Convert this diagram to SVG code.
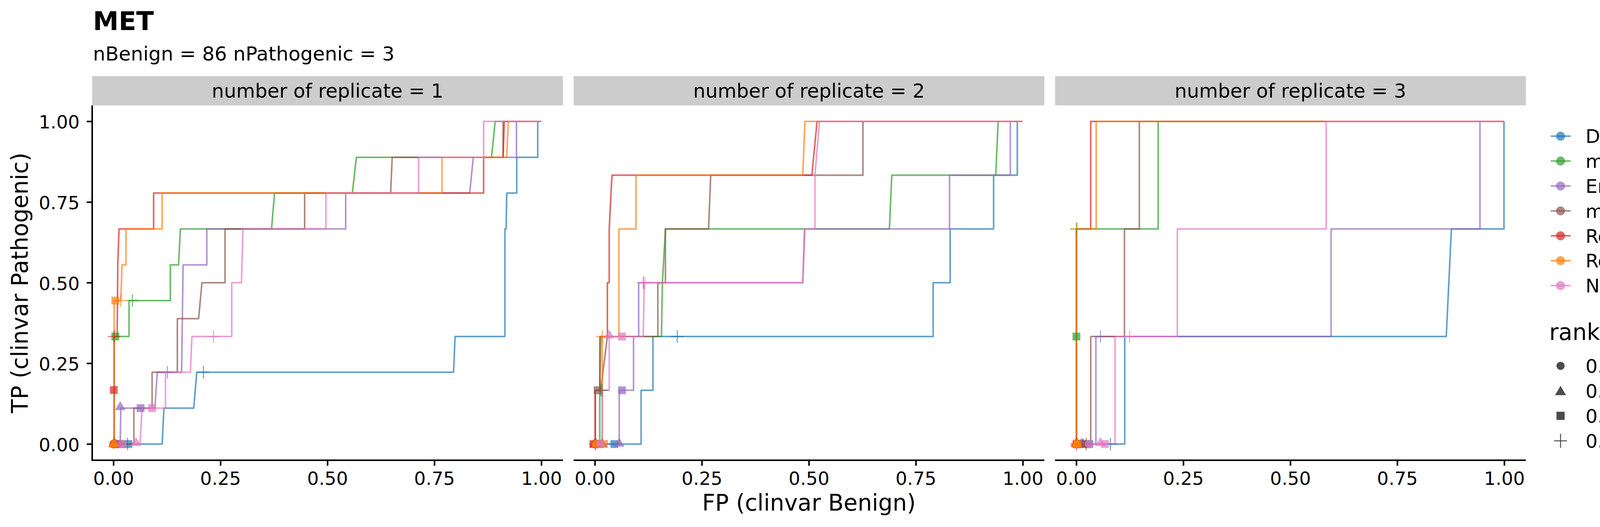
<svg xmlns="http://www.w3.org/2000/svg" xmlns:xlink="http://www.w3.org/1999/xlink" width="4500" height="1350" viewBox="0 0 4500 1350">
<style>
text{font-family:"DejaVu Sans","Liberation Sans",sans-serif;fill:#000}
.t{font-size:66px;font-weight:bold}
.st{font-size:50px}
.sx{font-size:49.5px;text-anchor:middle}
.tk{font-size:47px}
.tx{text-anchor:middle}
.ty{text-anchor:end}
.at{font-size:58px;text-anchor:middle}
.lg{font-size:48.5px}
.lt{font-size:58px}
.strip{fill:#cccccc}
.ax{stroke:#000;stroke-width:4;fill:none}
.c{fill:none;stroke-width:4;stroke-opacity:.7;vector-effect:non-scaling-stroke;stroke-linejoin:round}
.m{fill-opacity:.7;stroke-opacity:.7}
.lb{stroke:#1f77b4}.lgr{stroke:#2ca02c}.lp{stroke:#9467bd}.lbr{stroke:#8c564b}.lr{stroke:#d62728}.lo{stroke:#ff7f0e}.lk{stroke:#e377c2}
.kb{fill:#1f77b4;stroke:#1f77b4}.kg{fill:#2ca02c;stroke:#2ca02c}.kp{fill:#9467bd;stroke:#9467bd}.kbr{fill:#8c564b;stroke:#8c564b}.kr{fill:#d62728;stroke:#d62728}.ko{fill:#ff7f0e;stroke:#ff7f0e}.kk{fill:#e377c2;stroke:#e377c2}.kd{fill:#000;stroke:#000}
.kl{stroke-width:4;stroke-opacity:.7;fill:none}
</style>
<defs>
<ellipse id="mc" rx="14.14" ry="18.77" stroke="none"/>
<path id="mt" d="M0,-25.6 L17.35,13.65 L-17.35,13.65 Z" stroke="none"/>
<rect id="ms" x="-12.86" y="-17.06" width="25.71" height="34.12" stroke="none"/>
<path id="mp" d="M-20.57,0 H20.57 M0,-27.3 V27.3" fill="none" stroke-width="2.5" vector-effect="non-scaling-stroke"/>
<circle id="gc" r="11.5" stroke="none"/>
<circle id="gc2" r="10.5" stroke="none"/>
<path id="gt" d="M0,-13 L14,11 L-14,11 Z" stroke="none"/>
<rect id="gs" x="-10.5" y="-10.5" width="21" height="21" stroke="none"/>
<path id="gp" d="M-16.5,0 H16.5 M0,-18 V18" fill="none" stroke-width="2.5"/>
</defs>
<rect x="0" y="0" width="4500" height="1350" fill="#fff"/>

<g id="title">
<text class="t" x="238" y="77">MET</text>
<text class="st" x="238" y="155">nBenign = 86 nPathogenic = 3</text>
</g>

<g id="strips">
<rect class="strip" x="236" y="195" width="1205" height="75"/>
<rect class="strip" x="1468.5" y="195" width="1205" height="75"/>
<rect class="strip" x="2701" y="195" width="1205" height="75"/>
<text class="sx" x="838.5" y="250">number of replicate = 1</text>
<text class="sx" x="2071" y="250">number of replicate = 2</text>
<text class="sx" x="3303.5" y="250">number of replicate = 3</text>
</g>

<g id="axes">
<path class="ax" d="M236,270 V1181 M234,1179 H1441 M1468.5,1179 H2673.5 M2701,1179 H3906"/>
<path class="ax" d="M222,311.3 H236 M222,517.9 H236 M222,724.5 H236 M222,931.1 H236 M222,1137.7 H236"/>
<path class="ax" d="M290.8,1179 V1193 M564.7,1179 V1193 M838.6,1179 V1193 M1112.4,1179 V1193 M1386.3,1179 V1193 M1523.3,1179 V1193 M1797.2,1179 V1193 M2071.1,1179 V1193 M2344.9,1179 V1193 M2618.8,1179 V1193 M2755.8,1179 V1193 M3029.7,1179 V1193 M3303.6,1179 V1193 M3577.4,1179 V1193 M3851.3,1179 V1193"/>
<g class="tk ty">
<text x="204" y="329.3">1.00</text>
<text x="204" y="535.9">0.75</text>
<text x="204" y="742.5">0.50</text>
<text x="204" y="949.1">0.25</text>
<text x="204" y="1155.7">0.00</text>
</g>
<g class="tk tx">
<text x="290.8" y="1241.7">0.00</text><text x="564.7" y="1241.7">0.25</text><text x="838.6" y="1241.7">0.50</text><text x="1112.4" y="1241.7">0.75</text><text x="1386.3" y="1241.7">1.00</text>
<text x="1523.3" y="1241.7">0.00</text><text x="1797.2" y="1241.7">0.25</text><text x="2071.1" y="1241.7">0.50</text><text x="2344.9" y="1241.7">0.75</text><text x="2618.8" y="1241.7">1.00</text>
<text x="2755.8" y="1241.7">0.00</text><text x="3029.7" y="1241.7">0.25</text><text x="3303.6" y="1241.7">0.50</text><text x="3577.4" y="1241.7">0.75</text><text x="3851.3" y="1241.7">1.00</text>
</g>
<text class="at" x="2071" y="1308">FP (clinvar Benign)</text>
<text class="at" transform="translate(71,724.5) rotate(-90)">TP (clinvar Pathogenic)</text>
</g>

<g id="panel1" transform="translate(231.5,270) scale(0.77791,0.58617)">
<path class="c lb" d="M76,1480 L236,1480 L242,1323 L340,1323 L350,1166 L1195,1166 L1200,1010 L1364,1010 L1364,540 L1368,540 L1370,383 L1403,383 L1403,227 L1472,227 L1472,70 L1483,70"/>
<path class="c lgr" d="M76,1480 L78,1480 L78,1010 L127,1010 L127,853 L263,853 L263,697 L290,697 L296,540 L596,540 L606,383 L862,383 L875,227 L1320,227 L1332,70 L1483,70"/>
<path class="c lp" d="M76,1480 L98,1480 L100,1323 L212,1323 L220,1166 L300,1166 L305,697 L383,697 L383,540 L840,540 L840,383 L1248,383 L1260,227 L1402,227 L1402,70 L1483,70"/>
<path class="c lbr" d="M76,1480 L143,1480 L143,1323 L203,1323 L203,1166 L286,1166 L286,932 L356,932 L367,775 L443,775 L443,540 L705,540 L705,383 L988,383 L993,227 L1358,227 L1358,70 L1483,70"/>
<path class="c lr" d="M76,1480 L78,1480 L78,1010 L88,1010 L90,697 L94,540 L208,540 L208,383 L1294,383 L1294,227 L1358,227 L1362,70 L1483,70"/>
<path class="c lo" d="M76,1480 L78,1480 L78,853 L100,853 L104,697 L117,697 L117,540 L236,540 L236,383 L1157,383 L1157,227 L1370,227 L1375,70 L1483,70"/>
<path class="c lk" d="M76,1480 L163,1480 L170,1323 L247,1323 L247,1166 L329,1166 L334,1010 L465,1010 L465,775 L497,775 L502,540 L775,540 L775,383 L1080,383 L1080,227 L1294,227 L1294,70 L1483,70"/>
<use href="#mc" class="m kb" x="78" y="1480"/><use href="#mt" class="m kb" x="80" y="1480"/><use href="#ms" class="m kb" x="125" y="1480"/><use href="#mp" class="m kb" x="372" y="1166"/>
<use href="#mc" class="m kg" x="76" y="1480"/><use href="#mt" class="m kg" x="78" y="1478"/><use href="#ms" class="m kg" x="82" y="1010"/><use href="#mp" class="m kg" x="138" y="853"/>
<use href="#mc" class="m kp" x="90" y="1480"/><use href="#mt" class="m kp" x="98" y="1318"/><use href="#ms" class="m kp" x="165" y="1323"/><use href="#mp" class="m kp" x="253" y="1166"/>
<use href="#mc" class="m kbr" x="78" y="1480"/><use href="#mt" class="m kbr" x="80" y="1478"/><use href="#ms" class="m kbr" x="100" y="1480"/><use href="#mp" class="m kbr" x="122" y="1480"/>
<use href="#mc" class="m kr" x="76" y="1480"/><use href="#mt" class="m kr" x="76" y="1480"/><use href="#ms" class="m kr" x="77" y="1244"/><use href="#mp" class="m kr" x="78" y="1010"/>
<use href="#mc" class="m ko" x="76" y="1480"/><use href="#mt" class="m ko" x="78" y="1480"/><use href="#ms" class="m ko" x="82" y="853"/><use href="#mp" class="m ko" x="100" y="853"/>
<use href="#mc" class="m kk" x="104" y="1480"/><use href="#mt" class="m kk" x="150" y="1475"/><use href="#ms" class="m kk" x="203" y="1323"/><use href="#mp" class="m kk" x="405" y="1010"/>
</g>

<g id="panel2" transform="translate(1460,270) scale(0.77791,0.58617)">
<path class="c lb" d="M82,1480 L233,1480 L233,1245 L272,1245 L272,1010 L1194,1010 L1194,775 L1250,775 L1250,540 L1393,540 L1393,305 L1471,305 L1471,70 L1488,70"/>
<path class="c lgr" d="M82,1480 L97,1480 L97,1245 L100,1010 L300,1010 L303,775 L313,540 L1050,540 L1058,305 L1400,305 L1408,70 L1488,70"/>
<path class="c lp" d="M82,1480 L161,1480 L161,1245 L208,1245 L208,1010 L225,1010 L225,775 L765,775 L772,540 L1248,540 L1248,305 L1448,305 L1448,70 L1488,70"/>
<path class="c lbr" d="M82,1480 L82,1245 L100,1245 L122,1010 L288,1010 L288,775 L313,775 L313,540 L455,540 L462,305 L963,305 L963,70 L1488,70"/>
<path class="c lr" d="M82,1480 L82,1245 L97,1245 L97,1010 L122,1010 L122,775 L128,775 L128,540 L137,305 L795,305 L812,70 L1488,70"/>
<path class="c lo" d="M82,1480 L105,1480 L105,1010 L160,1010 L160,540 L216,540 L216,305 L765,305 L772,70 L1488,70"/>
<path class="c lk" d="M82,1480 L105,1480 L105,1245 L128,1245 L128,1010 L240,1010 L243,775 L765,775 L770,540 L805,540 L805,305 L820,70 L1488,70"/>
<use href="#mc" class="m kb" x="84" y="1480"/><use href="#mt" class="m kb" x="105" y="1480"/><use href="#ms" class="m kb" x="145" y="1480"/><use href="#mp" class="m kb" x="352" y="1010"/>
<use href="#mc" class="m kg" x="82" y="1480"/><use href="#mt" class="m kg" x="82" y="1480"/><use href="#ms" class="m kg" x="94" y="1480"/><use href="#mp" class="m kg" x="100" y="1245"/>
<use href="#mc" class="m kp" x="90" y="1480"/><use href="#mt" class="m kp" x="161" y="1478"/><use href="#ms" class="m kp" x="170" y="1245"/><use href="#mp" class="m kp" x="240" y="775"/>
<use href="#mc" class="m kbr" x="82" y="1480"/><use href="#mt" class="m kbr" x="80" y="1480"/><use href="#ms" class="m kbr" x="90" y="1245"/><use href="#mp" class="m kbr" x="105" y="1245"/>
<use href="#mc" class="m kr" x="82" y="1480"/><use href="#mt" class="m kr" x="82" y="1480"/><use href="#ms" class="m kr" x="76" y="1480"/><use href="#mp" class="m kr" x="82" y="1480"/>
<use href="#mc" class="m ko" x="84" y="1480"/><use href="#mt" class="m ko" x="86" y="1480"/><use href="#ms" class="m ko" x="111" y="1480"/><use href="#mp" class="m ko" x="105" y="1010"/>
<use href="#mc" class="m kk" x="100" y="1480"/><use href="#mt" class="m kk" x="128" y="1005"/><use href="#ms" class="m kk" x="170" y="1010"/><use href="#mp" class="m kk" x="245" y="775"/>
</g>

<g id="panel3" transform="translate(2695,270) scale(0.77791,0.58617)">
<path class="c lb" d="M78,1480 L237,1480 L237,1010 L1295,1010 L1312,540 L1485,540 L1485,70"/>
<path class="c lgr" d="M78,1480 L78,540 L347,540 L347,70 L1485,70"/>
<path class="c lp" d="M78,1480 L142,1480 L142,1010 L916,1010 L916,540 L1406,540 L1406,70 L1485,70"/>
<path class="c lbr" d="M78,1480 L125,1480 L125,1010 L236,1010 L236,540 L285,540 L285,70 L1485,70"/>
<path class="c lr" d="M78,1480 L78,540 L125,540 L125,70 L1485,70"/>
<path class="c lo" d="M78,1480 L78,540 L143,540 L143,70 L1485,70"/>
<path class="c lk" d="M78,1480 L205,1480 L205,1010 L410,1010 L410,540 L900,540 L900,70 L1485,70"/>
<use href="#mc" class="m kb" x="90" y="1480"/><use href="#mt" class="m kb" x="100" y="1480"/><use href="#ms" class="m kb" x="120" y="1480"/><use href="#mp" class="m kb" x="190" y="1480"/>
<use href="#mc" class="m kg" x="78" y="1480"/><use href="#mt" class="m kg" x="78" y="1480"/><use href="#ms" class="m kg" x="78" y="1010"/><use href="#mp" class="m kg" x="78" y="540"/>
<use href="#mc" class="m kp" x="84" y="1480"/><use href="#mt" class="m kp" x="95" y="1478"/><use href="#ms" class="m kp" x="110" y="1480"/><use href="#mp" class="m kp" x="157" y="1010"/>
<use href="#mc" class="m kbr" x="80" y="1480"/><use href="#mt" class="m kbr" x="80" y="1478"/><use href="#ms" class="m kbr" x="100" y="1480"/><use href="#mp" class="m kbr" x="110" y="1480"/>
<use href="#mc" class="m kr" x="78" y="1480"/><use href="#mt" class="m kr" x="76" y="1478"/><use href="#ms" class="m kr" x="78" y="1480"/><use href="#mp" class="m kr" x="78" y="1480"/>
<use href="#mc" class="m ko" x="78" y="1480"/><use href="#mt" class="m ko" x="78" y="1480"/><use href="#ms" class="m ko" x="82" y="1480"/><use href="#mp" class="m ko" x="80" y="540"/>
<use href="#mc" class="m kk" x="120" y="1480"/><use href="#mt" class="m kk" x="157" y="1475"/><use href="#ms" class="m kk" x="172" y="1480"/><use href="#mp" class="m kk" x="253" y="1010"/>
</g>

<g id="legend-method">
<path class="kl lb" d="M3970,348.8 H4021"/><use href="#gc" class="m kb" x="3995" y="348.8"/><text class="lg" x="4059" y="366.3">DiMSum</text>
<path class="kl lgr" d="M3970,412.6 H4021"/><use href="#gc" class="m kg" x="3995" y="412.6"/><text class="lg" x="4059" y="430.1">mutscan(edgeR)</text>
<path class="kl lp" d="M3970,476.4 H4021"/><use href="#gc" class="m kp" x="3995" y="476.4"/><text class="lg" x="4059" y="493.9">Enrich2</text>
<path class="kl lbr" d="M3970,540.2 H4021"/><use href="#gc" class="m kbr" x="3995" y="540.2"/><text class="lg" x="4059" y="557.7">mutscan(limma)</text>
<path class="kl lr" d="M3970,604 H4021"/><use href="#gc" class="m kr" x="3995" y="604"/><text class="lg" x="4059" y="621.5">Rosace</text>
<path class="kl lo" d="M3970,667.8 H4021"/><use href="#gc" class="m ko" x="3995" y="667.8"/><text class="lg" x="4059" y="685.3">Rosace(nopos)</text>
<path class="kl lk" d="M3970,731.6 H4021"/><use href="#gc" class="m kk" x="3995" y="731.6"/><text class="lg" x="4059" y="749.1">Naive</text>
</g>

<g id="legend-rank">
<text class="lt" x="3966" y="871">rank</text>
<use href="#gc2" class="m kd" x="3995" y="937.2"/><text class="lg" x="4059" y="954.7">0.01</text>
<use href="#gt" class="m kd" x="3995" y="1001.2"/><text class="lg" x="4059" y="1018.7">0.05</text>
<use href="#gs" class="m kd" x="3995" y="1065.2"/><text class="lg" x="4059" y="1082.7">0.1</text>
<use href="#gp" class="m kd" x="3995" y="1129.2"/><text class="lg" x="4059" y="1146.7">0.2</text>
</g>
</svg>
